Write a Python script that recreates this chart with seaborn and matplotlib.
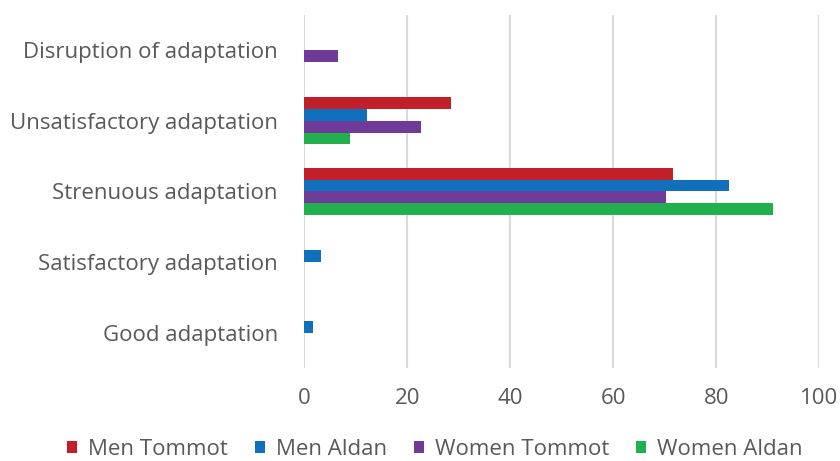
import matplotlib
matplotlib.use("Agg")
import matplotlib.pyplot as plt
import seaborn as sns
import pandas as pd

categories = [
    "Disruption of adaptation",
    "Unsatisfactory adaptation",
    "Strenuous adaptation",
    "Satisfactory adaptation",
    "Good adaptation",
]
men_tommot = [0, 28.4, 71.5, 0, 0]
men_aldan = [0, 12.2, 82.4, 3.2, 1.6]
women_tommot = [6.5, 22.7, 70.2, 0, 0]
women_aldan = [0, 8.9, 91.0, 0, 0]

series_names = ["Men Tommot", "Men Aldan", "Women Tommot", "Women Aldan"]
series_values = [men_tommot, men_aldan, women_tommot, women_aldan]
colors = ["#C1202A", "#1170BE", "#703A98", "#22B04E"]

x_ticks = [0, 20, 40, 60, 80, 100]

rows = []
for name, vals in zip(series_names, series_values):
    for cat, v in zip(categories, vals):
        rows.append({"category": cat, "group": name, "value": v})
df = pd.DataFrame(rows)

sns.set_theme(style="white")
plt.rcParams["font.family"] = ["Open Sans", "DejaVu Sans"]

fig = plt.figure(figsize=(8.4, 4.61), dpi=100)
ax = fig.add_axes([0.3623, 0.2017, 0.9754 - 0.3623, 0.9675 - 0.2017])

sns.barplot(
    data=df, x="value", y="category", hue="group",
    order=categories, hue_order=series_names,
    palette=colors, saturation=1, orient="h", width=0.667, gap=0,
    linewidth=0, errorbar=None, ax=ax, legend=True,
)

ax.set_xlim(0, 100)
ax.set_xticks(x_ticks)
ax.set_xticklabels([str(t) for t in x_ticks])
ax.set_xlabel("")
ax.set_ylabel("")
for s in ax.spines.values():
    s.set_visible(False)
ax.grid(axis="x", color="#D9D9D9", linewidth=1.5)
ax.grid(axis="y", visible=False)
ax.set_axisbelow(True)
ax.tick_params(axis="y", length=0, pad=19, labelsize=16, labelcolor="#595959")
ax.tick_params(axis="x", length=0, pad=14.5, labelsize=16, labelcolor="#595959")

handles, labels = ax.get_legend_handles_labels()
ax.get_legend().remove()
fig.legend(
    handles, labels, loc="center", bbox_to_anchor=(435 / 840, 1 - 449 / 461),
    ncol=4, frameon=False, fontsize=16, labelcolor="#595959", borderpad=0.2,
    handlelength=0.45, handleheight=0.45, handletextpad=0.5, columnspacing=1.2,
)

fig.savefig("out.png", dpi=100)
